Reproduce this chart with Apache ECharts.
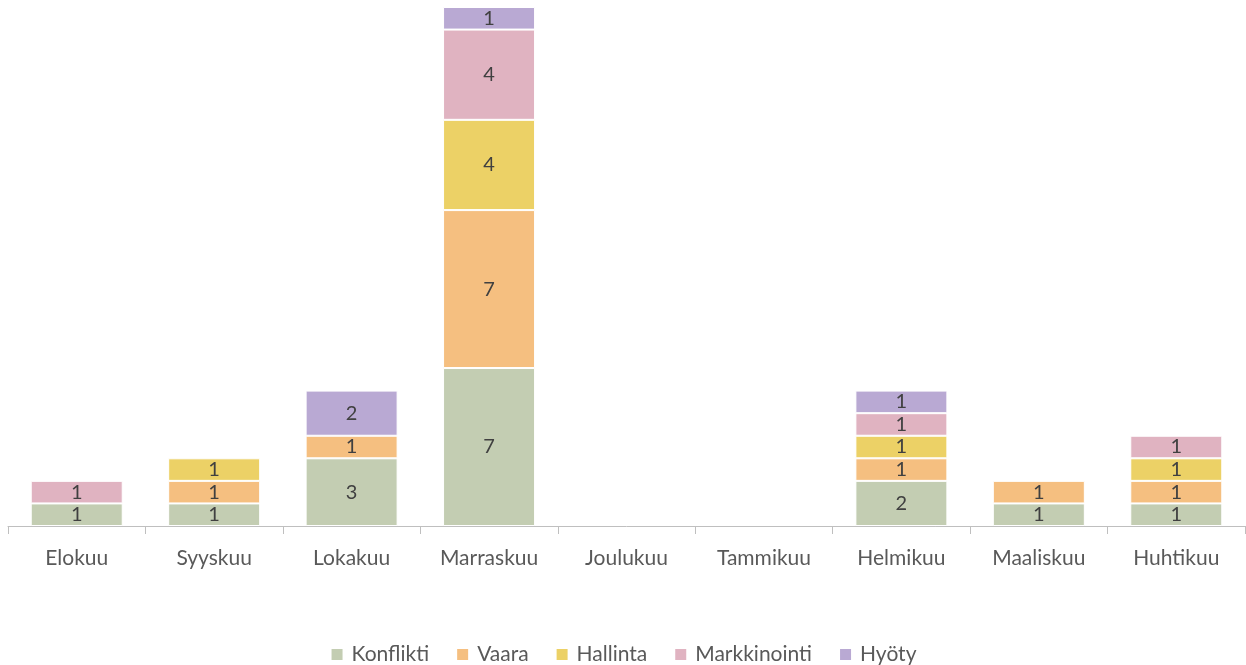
<!DOCTYPE html>
<html><head><meta charset="utf-8">
<script src="https://cdn.jsdelivr.net/npm/echarts@6/dist/echarts.min.js"></script>
<style>html,body{margin:0;padding:0;background:#fff}#c{width:1246px;height:665px}</style>
</head><body><div id="c"></div>
<script>
const categories = ['Elokuu','Syyskuu','Lokakuu','Marraskuu','Joulukuu','Tammikuu','Helmikuu','Maaliskuu','Huhtikuu'];
const konflikti = [1,1,3,7,null,null,2,1,1];
const vaara = [null,1,1,7,null,null,1,1,1];
const hallinta = [null,1,null,4,null,null,1,null,1];
const markkinointi = [1,null,null,4,null,null,1,null,1];
const hyoty = [null,null,2,1,null,null,1,null,null];
const seriesNames = ['Konflikti','Vaara','Hallinta','Markkinointi','Hyöty'];
const colors = ['#c3cdb2','#f5bf80','#ecd166','#e0b3c1','#b9a9d3'];
const font = 'Lato, "Open Sans", sans-serif';
const chart = echarts.init(document.getElementById('c'));
const dataSets = [konflikti, vaara, hallinta, markkinointi, hyoty];
chart.setOption({
  animation:false,
  color: colors,
  grid:{left:8,right:1,top:7,bottom:139,containLabel:false},
  legend:{bottom:-5,itemWidth:13,itemHeight:13,itemGap:26,icon:'rect',
    textStyle:{fontFamily:font,fontSize:21,color:'#595959',padding:[0,0,0,3]},
    data:seriesNames},
  xAxis:{type:'category',data:categories,
    axisLine:{lineStyle:{color:'#bfbfbf',width:1}},
    axisTick:{show:true,length:8,lineStyle:{color:'#bfbfbf'}},
    axisLabel:{fontFamily:font,fontSize:21,color:'#595959',margin:22}},
  yAxis:{type:'value',min:0,max:23,show:false,splitLine:{show:false}},
  series: seriesNames.map((n,i)=>({
    name:n,type:'bar',stack:'a',barWidth:92,data:dataSets[i],
    itemStyle:{color:colors[i],borderColor:'#ffffff',borderWidth:1},
    label:{show:true,position:'inside',fontFamily:font,fontSize:20,color:'#404040'}
  }))
});
</script></body></html>
